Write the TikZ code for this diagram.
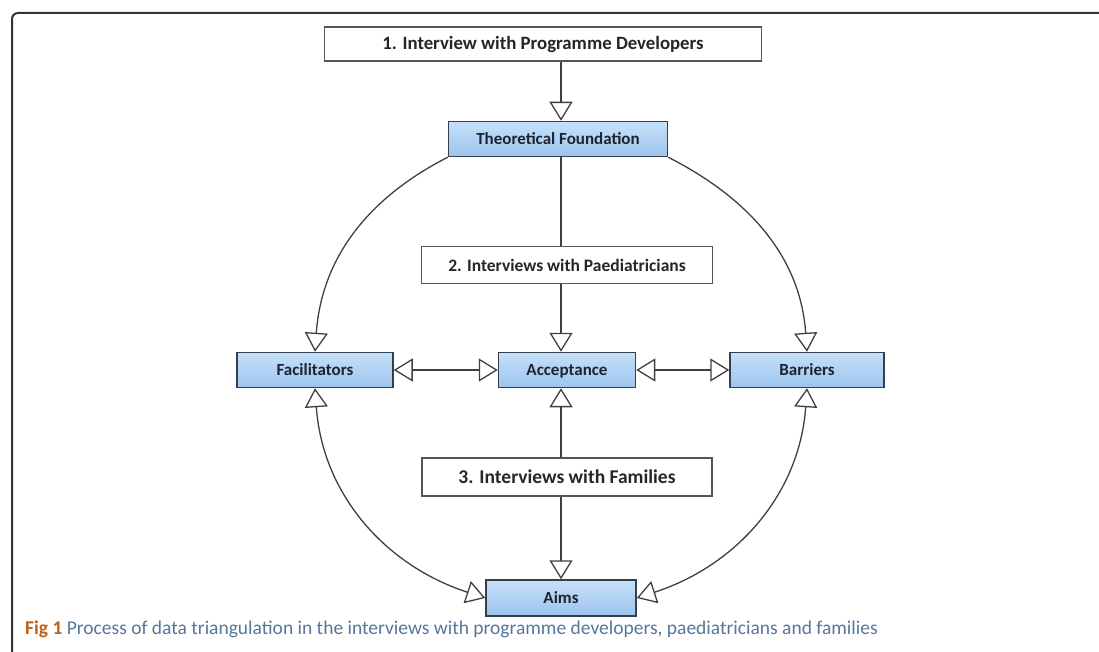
\documentclass[tikz,border=0pt]{standalone}
\usepackage{fontspec}
\setmainfont{Carlito}
\usetikzlibrary{arrows.meta}
\definecolor{lineg}{HTML}{404040}
\definecolor{frameg}{HTML}{333333}
\definecolor{boxedge}{HTML}{555555}
\definecolor{topicedge}{HTML}{34404E}
\definecolor{topictop}{HTML}{C6E0F9}
\definecolor{topicbot}{HTML}{9CC4EE}
\definecolor{topictext}{HTML}{1C2430}
\definecolor{figlabel}{HTML}{B8621E}
\definecolor{captext}{HTML}{56779A}
\begin{document}
\begin{tikzpicture}[x=1pt,y=1pt,
  conn/.style={draw=lineg, line width=1.3pt},
  opentip/.style={-{Triangle[open, length=19pt, width=23pt, line width=1.3pt]}},
  bothtips/.style={{Triangle[open, length=19pt, width=23pt, line width=1.3pt]}-{Triangle[open, length=19pt, width=23pt, line width=1.3pt]}},
  interview/.style={draw=boxedge, line width=1.6pt, fill=white, inner sep=0pt,
    text height=15pt, text depth=3pt, text=black!85},
  topic/.style={draw=topicedge, line width=1.5pt, top color=topictop, bottom color=topicbot,
    inner sep=0pt, minimum height=35pt, text height=14pt, text depth=3pt,
    font=\fontsize{17}{20}\selectfont\bfseries, text=topictext}
]
\useasboundingbox (0,0) rectangle (1099,-652);
\fill[white] (0,0) rectangle (1099,-652);

% open frame around the figure
\draw[frameg, line width=2pt, rounded corners=6pt] (12,-652) -- (12,-13) -- (1099,-13);

% vertical axis of the diagram
\coordinate (axis) at (561,0);

% interview boxes
\node[interview, minimum width=437pt, minimum height=34pt, font=\fontsize{18.8}{22}\selectfont\bfseries] (b1) at (543,-44) {1. Interview with Programme Developers};
\node[interview, minimum width=291pt, minimum height=37pt, font=\fontsize{17.5}{21}\selectfont\bfseries] (b2) at (567,-265) {2. Interviews with Paediatricians};
\node[interview, minimum width=290pt, minimum height=38pt, font=\fontsize{19.5}{23}\selectfont\bfseries] (b3) at (567,-477) {3. Interviews with Families};

% topic boxes
\node[topic, minimum width=219pt] (tf) at (558,-139) {Theoretical Foundation};
\node[topic, minimum width=156pt] (fac) at (315,-370) {Facilitators};
\node[topic, minimum width=137pt] (acc) at (567,-370) {Acceptance};
\node[topic, minimum width=154pt] (bar) at (807,-370) {Barriers};
\node[topic, minimum width=150pt, minimum height=36pt] (aims) at (561,-598) {Aims};

% straight connectors along the axis
\draw[conn, opentip] (b1.south -| axis) -- (tf.north -| axis);
\draw[conn] (tf.south -| axis) -- (b2.north -| axis);
\draw[conn, opentip] (b2.south -| axis) -- (acc.north -| axis);
\draw[conn, opentip] (b3.north -| axis) -- (acc.south -| axis);
\draw[conn, opentip] (b3.south -| axis) -- (aims.north -| axis);

% horizontal connectors
\draw[conn, bothtips] (fac.east) -- (acc.west);
\draw[conn, bothtips] (acc.east) -- (bar.west);

% circular connectors
\draw[conn, opentip] (tf.south west) to[out=207, in=86] (fac.north);
\draw[conn, opentip] (tf.south east) to[out=333, in=94] (bar.north);
\draw[conn, bothtips] (fac.south) to[out=274, in=162] (aims.west);
\draw[conn, bothtips] (bar.south) to[out=266, in=18] (aims.east);

% caption
\node[anchor=base west, inner sep=0pt, font=\fontsize{19.5}{23}\selectfont] (cap) at (25,-634)
  {\textcolor{figlabel}{\bfseries Fig 1} \textcolor{captext}{Process of data triangulation in the interviews with programme developers, paediatricians and families}};
\end{tikzpicture}
\end{document}
